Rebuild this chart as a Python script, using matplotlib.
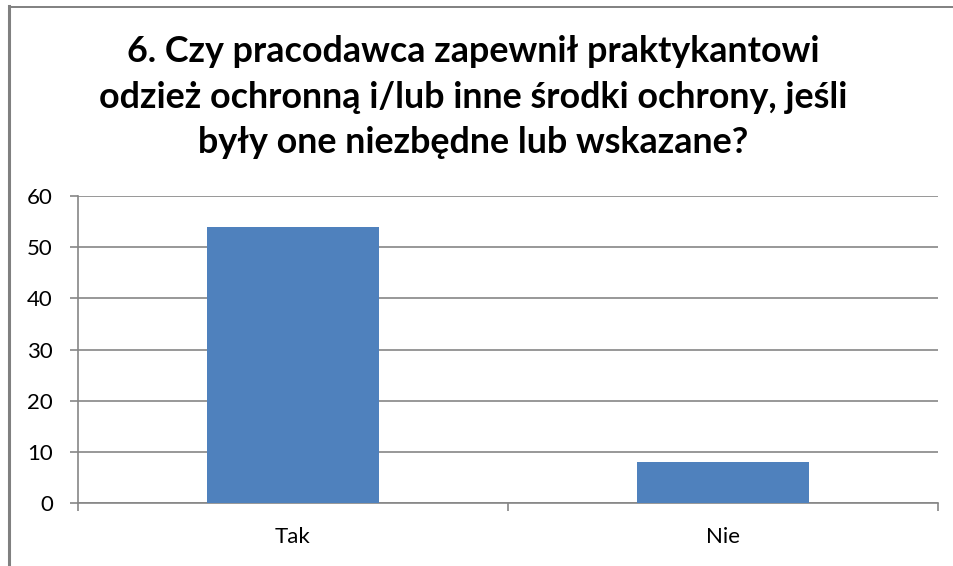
import matplotlib
matplotlib.use("Agg")
import matplotlib.pyplot as plt
from matplotlib.lines import Line2D

categories = ["Tak", "Nie"]
values = [54, 8]
y_ticks = [0, 10, 20, 30, 40, 50, 60]
title = ("6. Czy pracodawca zapewnił praktykantowi\n"
         "odzież ochronną i/lub inne środki ochrony, jeśli\n"
         "były one niezbędne lub wskazane?")

plt.rcParams['font.family'] = ['Lato', 'DejaVu Sans']

W, H = 954, 566
fig = plt.figure(figsize=(W / 100, H / 100), dpi=100)
ax = fig.add_axes([78 / W, 1 - 503 / H, (938 - 78) / W, (503 - 196) / H])

grid_col = '#868686'
x = list(range(len(categories)))
ax.bar(x, values, width=0.4, color='#4F81BD', zorder=3)

ax.set_xlim(-0.5, len(categories) - 0.5)
ax.set_ylim(0, 60)
ax.set_yticks(y_ticks)
ax.set_yticklabels([str(t) for t in y_ticks], fontsize=16)
ax.yaxis.grid(True, color=grid_col, linewidth=1.2, zorder=0)

# category labels centred, ticks at boundaries
ax.set_xticks(x)
ax.set_xticklabels(categories, fontsize=16)
ax.tick_params(axis='x', length=0, pad=17)
ax.set_xticks([-0.5, 0.5, 1.5], minor=True)
ax.tick_params(axis='x', which='minor', length=6, color=grid_col, width=1.2)
ax.tick_params(axis='y', length=6, color=grid_col, width=1.2, pad=12)

for side in ['top', 'right']:
    ax.spines[side].set_visible(False)
for side in ['left', 'bottom']:
    ax.spines[side].set_color(grid_col)
    ax.spines[side].set_linewidth(1.2)

fig.text(473 / W, 1 - 97 / H, title, ha='center', va='center',
         fontsize=25.8, fontweight='bold', linespacing=1.48)

# chart frame (left and top edges visible)
fig.add_artist(Line2D([9 / W, 9 / W], [0, 1 - 6 / H], color='#808080', linewidth=2.2,
                      transform=fig.transFigure))
fig.add_artist(Line2D([9 / W, 1], [1 - 6.5 / H, 1 - 6.5 / H], color='#808080', linewidth=1.4,
                      transform=fig.transFigure))

fig.savefig("out.png", dpi=100)
